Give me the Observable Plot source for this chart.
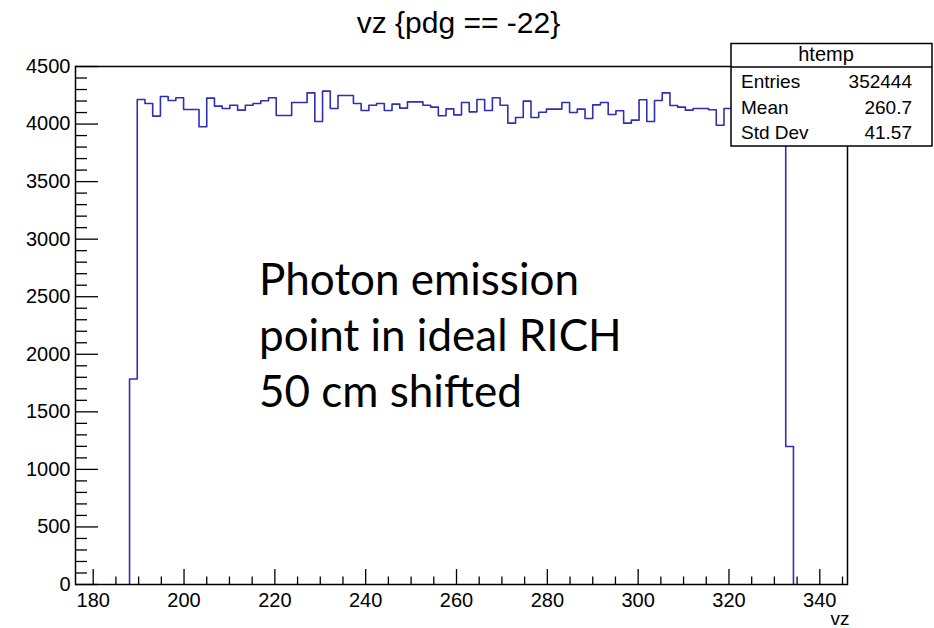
<!DOCTYPE html>
<html>
<head>
<meta charset="utf-8">
<script src="https://cdn.jsdelivr.net/npm/d3@7"></script>
<script src="https://cdn.jsdelivr.net/npm/@observablehq/plot@0.6"></script>
<style>
  html, body { margin: 0; padding: 0; background: #fff; }
  #chart { position: relative; width: 934px; height: 628px; overflow: hidden; }
</style>
</head>
<body>
<div id="chart"></div>
<script>
// ---- Data (ROOT TTree::Draw, 100 bins) ----
const titleText = "vz {pdg == -22}";
const xAxisTitle = "vz";
const histName = "htemp";
const statsLabels = ["Entries", "Mean", "Std Dev"];
const statsValues = ["352444", "260.7", "41.57"];
const annotationLines = ["Photon emission", "point in ideal RICH", "50 cm shifted"];

const histMin = 176.1;     // lower edge of the histogram axis
const histMax = 346.1;     // upper edge of the histogram axis
const nBins = 100;

// bin contents, bin 0 .. bin 99
const counts = [
  0, 0, 0, 0, 0, 0, 0,
  1785, 4213, 4179, 4069, 4240, 4205, 4228, 4127, 4127, 3976,
  4225, 4156, 4135, 4164, 4121, 4164, 4179, 4202, 4228, 4074,
  4074, 4187, 4187, 4271, 4022, 4286, 4135, 4248, 4248, 4179,
  4118, 4164, 4179, 4118, 4173, 4138, 4193, 4193, 4164, 4147,
  4072, 4132, 4080, 4187, 4106, 4213, 4118, 4228, 4164, 4008,
  4057, 4199, 4057, 4103, 4130, 4130, 4187, 4100, 4130, 4048,
  4167, 4187, 4083, 4115, 4008, 4034, 4211, 4022, 4205, 4271,
  4161, 4147, 4121, 4135, 4135, 4124, 3990, 4135,
  4170, 4110, 4190, 4140, 4095, 4160, 4105,
  1199,
  0, 0, 0, 0, 0, 0, 0
];

const yMajorTicks = [0, 500, 1000, 1500, 2000, 2500, 3000, 3500, 4000, 4500];
const yMinorTicks = d3.range(0, 4501, 100).filter(v => v % 500 !== 0);
const xMajorTicks = [180, 200, 220, 240, 260, 280, 300, 320, 340];
const xMinorTicks = d3.range(180, 346, 5).filter(v => v % 20 !== 0);

// ---- Build the step outline from the bin contents ----
const binWidth = (histMax - histMin) / nBins;
const edge = i => histMin + i * binWidth;
const first = counts.findIndex(c => c > 0);
const last = counts.length - 1 - [...counts].reverse().findIndex(c => c > 0);
const outline = [{x: edge(first), y: 0}];
for (let i = first; i <= last; i++) outline.push({x: edge(i), y: counts[i]});
outline.push({x: edge(last + 1), y: 0});

const W = 934, H = 628;
const mL = 75, mR = 87, mT = 66, mB = 44;
const frameW = W - mL - mR, frameH = H - mT - mB;
const ink = "#000";
const histColor = "#2f2fb3";

const plot = Plot.plot({
  width: W, height: H,
  marginLeft: mL, marginRight: mR, marginTop: mT, marginBottom: mB,
  style: {
    fontFamily: "'Liberation Sans', Arial, Helvetica, sans-serif",
    fontSize: "20px",
    color: ink,
    background: "#fff",
    overflow: "visible"
  },
  x: {domain: [histMin, histMax]},
  y: {domain: [0, 4500]},
  marks: [
    Plot.line(outline, {x: "x", y: "y", curve: "step-after", stroke: histColor, strokeWidth: 1.6}),
    // inward ticks, ROOT style
    Plot.tickY(yMajorTicks, {y: d => d, insetRight: frameW - 23, stroke: ink, strokeWidth: 1.3}),
    Plot.tickY(yMinorTicks, {y: d => d, insetRight: frameW - 12, stroke: ink, strokeWidth: 1.3}),
    Plot.tickX(xMajorTicks, {x: d => d, insetTop: frameH - 15, stroke: ink, strokeWidth: 1.3}),
    Plot.tickX(xMinorTicks, {x: d => d, insetTop: frameH - 7.5, stroke: ink, strokeWidth: 1.3}),
    Plot.frame({stroke: ink, strokeWidth: 1.5}),
    Plot.axisY({ticks: yMajorTicks, tickSize: 0, tickPadding: 5, label: null, tickFormat: d => String(d)}),
    Plot.axisX({ticks: xMajorTicks, tickSize: 0, tickPadding: 8, label: null, tickFormat: d => String(d)}),
    Plot.text([xAxisTitle], {frameAnchor: "bottom-right", textAnchor: "end", lineAnchor: "bottom", dy: 40, dx: 2, fontSize: 19}),
    Plot.text([titleText], {frameAnchor: "top", lineAnchor: "bottom", dy: -34, dx: -3, fontSize: 30})
  ]
});

document.getElementById("chart").appendChild(plot);

// ---- Annotation text ----
const svg = d3.select(plot);
const ann = svg.append("g")
  .attr("font-family", "Lato, 'Open Sans', sans-serif")
  .attr("font-size", 44)
  .attr("text-anchor", "start")
  .attr("fill", ink);
annotationLines.forEach((t, i) => {
  ann.append("text").attr("x", 259).attr("y", 295 + i * 56).attr("text-anchor", "start").text(t);
});

// ---- Statistics box (drawn on top of the histogram) ----
const box = svg.append("g")
  .attr("font-family", "'Liberation Sans', Arial, Helvetica, sans-serif")
  .attr("font-size", 19)
  .attr("fill", ink);
const bx0 = 731, bx1 = 932, by0 = 43.5, by1 = 146, bySep = 67;
box.append("rect").attr("x", bx0).attr("y", by0).attr("width", bx1 - bx0).attr("height", by1 - by0)
  .attr("fill", "#fff").attr("stroke", ink).attr("stroke-width", 1.5);
box.append("line").attr("x1", bx0).attr("x2", bx1).attr("y1", bySep).attr("y2", bySep)
  .attr("stroke", ink).attr("stroke-width", 1.5);
box.append("text").attr("x", 826).attr("y", 61).attr("text-anchor", "middle").attr("font-size", 20).text(histName);
const rowBase = [88, 114, 138.5];
statsLabels.forEach((lab, i) => {
  box.append("text").attr("x", 741).attr("y", rowBase[i]).attr("text-anchor", "start").text(lab);
  box.append("text").attr("x", 912).attr("y", rowBase[i]).attr("text-anchor", "end").text(statsValues[i]);
});
</script>
</body>
</html>
